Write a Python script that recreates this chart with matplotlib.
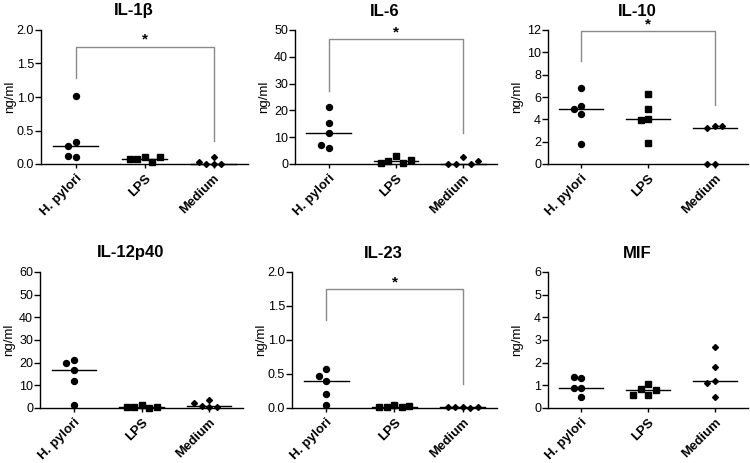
import matplotlib
matplotlib.use("Agg")
import matplotlib.pyplot as plt
import numpy as np

plt.rcParams['font.family'] = ['Liberation Sans', 'DejaVu Sans']

groups = ['H. pylori', 'LPS', 'Medium']

titles = ['IL-1β', 'IL-6', 'IL-10', 'IL-12p40', 'IL-23', 'MIF']
ymax = [2.0, 50, 12, 60, 2.0, 6]
ystep = [0.5, 10, 2, 10, 0.5, 1]

# values read per group (ng/ml)
il1b = [[1.01, 0.33, 0.27, 0.10, 0.12],
        [0.10, 0.07, 0.03, 0.07, 0.11],
        [0.11, 0.0, 0.0, 0.0, 0.03]]
il6 = [[21.4, 15.3, 11.6, 6.0, 7.0],
       [2.9, 1.0, 0.4, 0.5, 1.6],
       [2.6, 0.0, 0.0, 0.0, 1.1]]
il10 = [[6.8, 5.2, 4.9, 4.5, 1.8],
        [6.3, 4.9, 4.0, 3.9, 1.9],
        [3.4, 3.25, 3.4, 0.0, 0.0]]
il12 = [[21.2, 19.8, 16.6, 12.0, 1.2],
        [1.4, 0.5, 0.1, 0.3, 0.4],
        [3.6, 0.8, 0.3, 0.6, 2.3]]
il23 = [[0.57, 0.47, 0.40, 0.20, 0.05],
        [0.04, 0.02, 0.01, 0.02, 0.03],
        [0.02, 0.01, 0.0, 0.01, 0.02]]
mif = [[1.33, 1.35, 0.90, 0.87, 0.50],
       [1.05, 0.86, 0.78, 0.58, 0.58],
       [2.68, 1.81, 1.20, 1.10, 0.47]]
panels = [il1b, il6, il10, il12, il23, mif]

# significance bracket (bar height, left drop, right drop) or None
brackets = [(1.75, 1.28, 0.35), (46.5, 27.3, 11.5), (11.9, 9.2, 5.3),
            None, (1.75, 1.29, 0.35), None]

markers = ['o', 's', 'D']
msizes = [4.3, 4.0, 3.0]

W, H = 7.5, 4.63
fig = plt.figure(figsize=(W, H), dpi=100)

lefts = [[41, 295, 548], [40, 292, 548]]
rights = [[248, 497, 748], [243, 497, 748]]
tops = [30, 272]
bottoms = [164, 408]
title_y = [11, 253]


def swarm(vals, px_x, px_y, diam):
    placed = []
    offs = []
    cands = [0]
    for k in range(1, 8):
        cands += [-k, k]
    step = diam / px_x
    for v in vals:
        for c in cands:
            o = c * step
            ok = True
            for (po, pv) in placed:
                dx = (o - po) * px_x
                dy = (v - pv) * px_y
                if dx * dx + dy * dy < (diam * 0.95) ** 2:
                    ok = False
                    break
            if ok:
                break
        placed.append((o, v))
        offs.append(o)
    return offs


for i, data in enumerate(panels):
    r, c = divmod(i, 3)
    l, rr, t, b = lefts[r][c], rights[r][c], tops[r], bottoms[r]
    w = rr - l
    ax = fig.add_axes([l / 750, 1 - b / 463, w / 750, (b - t) / 463])
    ax.set_xlim(-0.5, 2.5)
    ax.set_ylim(0, ymax[i])
    px_x = w / 3.0
    px_y = (b - t) / ymax[i]
    for g, vals in enumerate(data):
        offs = swarm(vals, px_x, px_y, 7.5)
        ax.plot(g + np.array(offs), vals, linestyle='none', marker=markers[g],
                markersize=msizes[g], color='black', clip_on=False, zorder=3)
        med = np.median(vals)
        ax.plot([g - 0.33, g + 0.33], [med, med], color='black', lw=1.0,
                clip_on=False, zorder=2)
    br = brackets[i]
    if br is not None:
        top, dl, dr = br
        ax.plot([0, 0, 2, 2], [dl, top, top, dr], color='#8a8a8a', lw=1.0,
                clip_on=False)
        ax.text(1, top, '*', ha='center', va='bottom', fontsize=11,
                fontweight='bold')
    ax.set_yticks(np.arange(0, ymax[i] + ystep[i] / 2, ystep[i]))
    if ystep[i] < 1:
        ax.set_yticklabels(['%.1f' % v for v in ax.get_yticks()])
    else:
        ax.set_yticklabels(['%d' % v for v in ax.get_yticks()])
    ax.set_xticks([0, 1, 2])
    ax.set_xticklabels(groups, rotation=45, ha='right', rotation_mode='anchor',
                       fontweight='bold', fontsize=9.5)
    ax.tick_params(axis='y', labelsize=9, length=4, width=1, pad=1)
    ax.tick_params(axis='x', length=3, width=1, pad=3)
    for s in ['top', 'right']:
        ax.spines[s].set_visible(False)
    for s in ['left', 'bottom']:
        ax.spines[s].set_linewidth(1.0)
    ax.set_ylabel('ng/ml', fontsize=9.5)
    ax.yaxis.set_label_coords(-25.0 / w, 0.5)
    fig.text((l + w / 2 - 11) / 750, 1 - title_y[r] / 463, titles[i],
             ha='center', va='center', fontsize=12, fontweight='bold')

fig.savefig('out.png', dpi=100)
